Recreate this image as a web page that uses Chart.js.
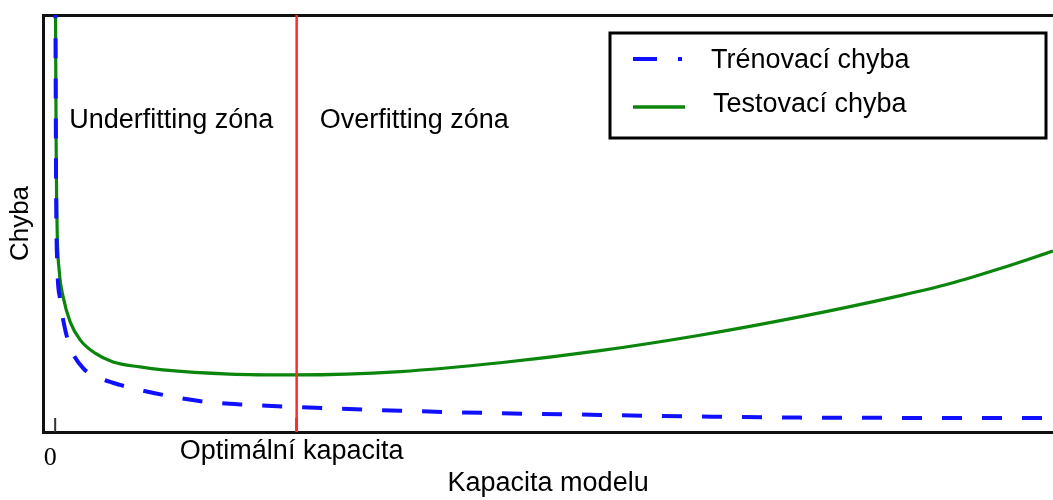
<!DOCTYPE html>
<html lang="cs">
<head>
    <meta charset="UTF-8">
    <title>Chyba vs. kapacita modelu</title>
    <script src="https://cdn.jsdelivr.net/npm/chart.js"></script>
    <style>
        body { margin: 0; background: #fff; }
        #wrap { width: 1053px; height: 500px; }
    </style>
</head>
<body>
    <div id="wrap">
        <canvas id="graph"></canvas>
    </div>
</body>
<script>
    // values (x = kapacita, y = chyba)
    const trainX = [0.02, 0.1, 0.2, 0.5, 0.9, 1.5, 2.8, 4.5, 6.5, 10.8, 15.2, 19.5, 24.2, 34.6, 44.6, 54.6, 64.6, 74.6, 100];
    const trainY = [10.4, 5.6, 4.1, 3.17, 2.57, 2.04, 1.53, 1.29, 1.13, 0.89, 0.72, 0.65, 0.60, 0.51, 0.45, 0.41, 0.37, 0.345, 0.335];

    const testX = [0.03, 0.1, 0.2, 0.4, 0.8, 1.5, 2.5, 4.0, 5.8, 8.5, 10.8, 17.5, 24.2, 34.6, 44.6, 54.6, 64.6, 74.6, 84.7, 89.7, 94.7, 100];
    const testY = [10.4, 6.8, 4.84, 3.88, 3.24, 2.64, 2.21, 1.89, 1.68, 1.56, 1.49, 1.39, 1.37, 1.45, 1.66, 1.95, 2.32, 2.76, 3.27, 3.56, 3.92, 4.34];

    const optimum = 24.2;
    const xTicks = [0, optimum];
    const xTickLabels = ['0', 'Optimální kapacita'];
    const zoneLabels = ['Underfitting zóna', 'Overfitting zóna'];
    const seriesNames = ['Trénovací chyba', 'Testovací chyba'];

    const xMin = -1.2, xMax = 100, yMin = 0, yMax = 10;
    const sans = 'Liberation Sans';

    function pts(xs, ys) {
        return xs.map((x, i) => ({ x: x, y: ys[i] }));
    }

    // zone texts, inner ticks and the framed legend
    const extras = {
        id: 'extras',
        afterDraw(chart) {
            const ctx = chart.ctx;
            const area = chart.chartArea;
            const xs = chart.scales.x;
            const optPx = xs.getPixelForValue(optimum);
            ctx.save();

            // small ticks pointing up into the plot
            ctx.strokeStyle = '#333';
            ctx.lineWidth = 2;
            xTicks.forEach(v => {
                const px = xs.getPixelForValue(v);
                ctx.beginPath();
                ctx.moveTo(px, area.bottom - 14);
                ctx.lineTo(px, area.bottom);
                ctx.stroke();
            });
            // red line over the tick
            ctx.strokeStyle = '#ff2b2b';
            ctx.lineWidth = 2.5;
            ctx.beginPath();
            ctx.moveTo(optPx, area.bottom - 14);
            ctx.lineTo(optPx, area.bottom);
            ctx.stroke();

            ctx.fillStyle = '#000';
            ctx.font = '27px "' + sans + '"';
            ctx.textBaseline = 'alphabetic';
            ctx.textAlign = 'left';
            ctx.fillText(zoneLabels[0], area.left + 26, 128);
            ctx.fillText(zoneLabels[1], optPx + 23, 128);

            // legend
            ctx.strokeStyle = '#000';
            ctx.lineWidth = 3;
            ctx.strokeRect(610, 33, 436, 105);

            const ds = chart.data.datasets;
            const rows = [
                { d: ds[1], y: 59, ty: 68, tx: 711, dash: [24, 21, 4, 100], w: 4 },
                { d: ds[2], y: 107, ty: 112, tx: 713, dash: [], w: 3.5 }
            ];
            rows.forEach(r => {
                ctx.strokeStyle = r.d.borderColor;
                ctx.lineWidth = r.w;
                ctx.setLineDash(r.dash);
                ctx.beginPath();
                ctx.moveTo(633, r.y);
                ctx.lineTo(685, r.y);
                ctx.stroke();
                ctx.setLineDash([]);
                ctx.fillStyle = '#000';
                ctx.fillText(r.d.label, r.tx, r.ty);
            });
            ctx.restore();
        }
    };

    new Chart(document.getElementById('graph'), {
        type: 'line',
        data: {
            datasets: [
                {
                    label: 'optimum',
                    data: [{ x: optimum, y: yMin }, { x: optimum, y: yMax }],
                    borderColor: '#ff2b2b',
                    borderWidth: 2.5,
                    pointRadius: 0
                },
                {
                    label: seriesNames[0],
                    data: pts(trainX, trainY),
                    borderColor: '#1010ff',
                    borderWidth: 4,
                    borderDash: [20, 20],
                    pointRadius: 0,
                    cubicInterpolationMode: 'monotone'
                },
                {
                    label: seriesNames[1],
                    data: pts(testX, testY),
                    borderColor: '#0c850c',
                    borderWidth: 3.2,
                    pointRadius: 0,
                    cubicInterpolationMode: 'monotone'
                }
            ]
        },
        options: {
            responsive: true,
            maintainAspectRatio: false,
            animation: false,
            layout: { padding: { top: 15, left: 0, right: 0, bottom: 0 } },
            plugins: {
                legend: { display: false },
                tooltip: { enabled: false }
            },
            scales: {
                x: {
                    type: 'linear',
                    min: xMin,
                    max: xMax,
                    grid: { display: false, drawTicks: false },
                    border: { color: '#111', width: 3 },
                    afterBuildTicks: scale => {
                        scale.ticks = xTicks.map(v => ({ value: v }));
                    },
                    afterFit: scale => { scale.height = 68; },
                    ticks: {
                        autoSkip: false,
                        maxRotation: 0,
                        padding: 3.8,
                        labelOffset: -5,
                        color: '#000',
                        font: c => c.index === 0
                            ? { family: 'Liberation Serif', size: 26, lineHeight: 1.7 }
                            : { family: sans, size: 27, lineHeight: 1.2 },
                        callback: (v, i) => xTickLabels[i]
                    },
                    title: {
                        display: true,
                        text: 'Kapacita modelu',
                        color: '#000',
                        font: { family: sans, size: 27 },
                        padding: { top: 0, bottom: 0 }
                    }
                },
                x2: {
                    type: 'linear',
                    position: 'top',
                    min: xMin,
                    max: xMax,
                    grid: { display: false, drawTicks: false },
                    ticks: { display: false },
                    border: { color: '#111', width: 3 }
                },
                y: {
                    min: yMin,
                    max: yMax,
                    grid: { display: false, drawTicks: false },
                    ticks: { display: false },
                    border: { color: '#111', width: 3 },
                    title: {
                        display: true,
                        text: 'Chyba',
                        color: '#000',
                        font: { family: sans, size: 26 },
                        padding: { top: 5, bottom: 7 }
                    }
                }
            }
        },
        plugins: [extras]
    });
</script>
</html>
